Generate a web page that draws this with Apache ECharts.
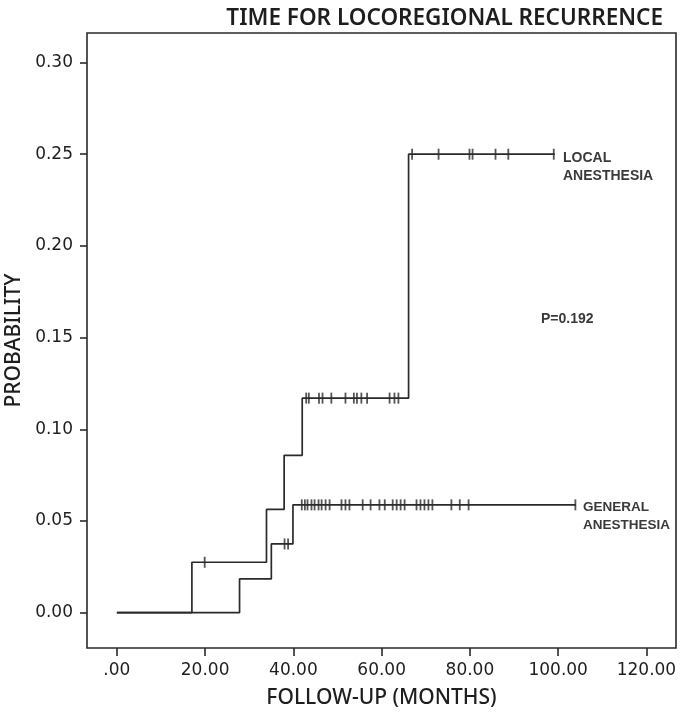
<!DOCTYPE html>
<html>
<head>
<meta charset="utf-8">
<script src="https://cdn.jsdelivr.net/npm/echarts@6/dist/echarts.min.js"></script>
<style>
html,body{margin:0;padding:0;background:#fff;}
#chart{width:689px;height:713px;}
</style>
</head>
<body>
<div id="chart"></div>
<script>
// ---- data ----
const xTicks = [0, 20, 40, 60, 80, 100, 120];
const yTicks = [0, 0.05, 0.10, 0.15, 0.20, 0.25, 0.30];

// Local anesthesia: event times (months) and cumulative probability after each
const localTimes = [0, 17.0, 33.9, 37.9, 42.0, 66.1, 99.2];
const localProb  = [0, 0.0275, 0.0563, 0.0858, 0.117, 0.25, 0.25];
const localCensor = [19.9, 42.9, 43.5, 45.8, 46.6, 48.6, 51.8, 53.7, 54.4, 55.4, 56.7,
                     61.8, 62.9, 63.8, 66.9, 72.9, 79.9, 80.6, 85.8, 88.7, 99.0];

// General anesthesia
const generalTimes = [0, 27.8, 35.0, 39.9, 104.0];
const generalProb  = [0, 0.0184, 0.0375, 0.0588, 0.0588];
const generalCensor = [38.0, 38.8, 41.9, 42.6, 43.2, 44.1, 44.8, 45.7, 46.4, 47.3, 48.2,
                       50.9, 51.8, 52.7, 55.7, 57.5, 59.5, 60.7, 62.5, 63.4, 64.3, 65.2,
                       67.9, 68.8, 69.7, 70.6, 71.5, 75.8, 77.7, 79.7, 103.9];

function probAt(times, probs, t) {
  let p = probs[0];
  for (let i = 0; i < times.length; i++) if (times[i] <= t) p = probs[i];
  return p;
}
function pairs(times, probs) { return times.map((t, i) => [t, probs[i]]); }
function censorPts(c, times, probs) { return c.map(t => [t, probAt(times, probs, t)]); }

const ink = '#2a2a2a';
const chart = echarts.init(document.getElementById('chart'));
chart.setOption({
  animation: false,
  backgroundColor: '#fff',
  title: {
    text: 'TIME FOR LOCOREGIONAL RECURRENCE',
    right: 21, top: 2,
    textStyle: { fontFamily: 'Noto Sans', fontSize: 22.5, fontWeight: 600, color: '#1e1e1e' }
  },
  grid: { left: 87, right: 13, top: 33, bottom: 65, outerBoundsMode: 'none', containLabel: false,
    show: true, borderColor: ink, borderWidth: 1.6, backgroundColor: '#fff' },
  xAxis: {
    type: 'value', min: -6.77, max: 126.7,
    name: 'FOLLOW-UP (MONTHS)', nameLocation: 'middle', nameGap: 40,
    nameTextStyle: { fontFamily: 'Noto Sans', fontSize: 21, fontWeight: 500, color: '#1e1e1e' },
    axisLine: { show: false, onZero: false },
    splitLine: { show: false },
    axisTick: { show: true, length: 8, lineStyle: { color: ink, width: 1.6 }, customValues: xTicks },
    axisLabel: { customValues: xTicks, margin: 14, fontFamily: 'DejaVu Sans', fontSize: 17, color: '#1e1e1e',
      formatter: v => v === 0 ? '.00' : v.toFixed(2) }
  },
  yAxis: {
    type: 'value', min: -0.01925, max: 0.3161,
    name: 'PROBABILITY', nameLocation: 'middle', nameGap: 62,
    nameTextStyle: { fontFamily: 'Noto Sans', fontSize: 21, fontWeight: 500, color: '#1e1e1e' },
    axisLine: { show: false, onZero: false },
    splitLine: { show: false },
    axisTick: { show: true, length: 7, lineStyle: { color: ink, width: 1.6 }, customValues: yTicks },
    axisLabel: { customValues: yTicks, margin: 14, fontFamily: 'DejaVu Sans', fontSize: 17, color: '#1e1e1e',
      formatter: v => v.toFixed(2) }
  },
  series: [
    { name: 'LOCAL ANESTHESIA', type: 'line', step: 'end', data: pairs(localTimes, localProb),
      showSymbol: false, lineStyle: { color: ink, width: 1.7 } },
    { name: 'GENERAL ANESTHESIA', type: 'line', step: 'end', data: pairs(generalTimes, generalProb),
      showSymbol: false, lineStyle: { color: ink, width: 1.7 } },
    { type: 'scatter', data: censorPts(localCensor, localTimes, localProb),
      symbol: 'rect', symbolSize: [1.8, 11], itemStyle: { color: ink } },
    { type: 'scatter', data: censorPts(generalCensor, generalTimes, generalProb),
      symbol: 'rect', symbolSize: [1.8, 11], itemStyle: { color: ink } }
  ],
  graphic: [
    { type: 'text', left: 563, top: 149, style: { text: 'LOCAL\nANESTHESIA', fontFamily: 'Liberation Sans', fontWeight: 'bold', fontSize: 14, lineHeight: 18, fill: '#3a3a3a' } },
    { type: 'text', left: 583, top: 498, style: { text: 'GENERAL\nANESTHESIA', fontFamily: 'Liberation Sans', fontWeight: 'bold', fontSize: 13.5, lineHeight: 18, fill: '#3a3a3a' } },
    { type: 'text', left: 541, top: 312, style: { text: 'P=0.192', fontFamily: 'Liberation Sans', fontWeight: 'bold', fontSize: 14, fill: '#3a3a3a' } }
  ]
});
</script>
</body>
</html>
